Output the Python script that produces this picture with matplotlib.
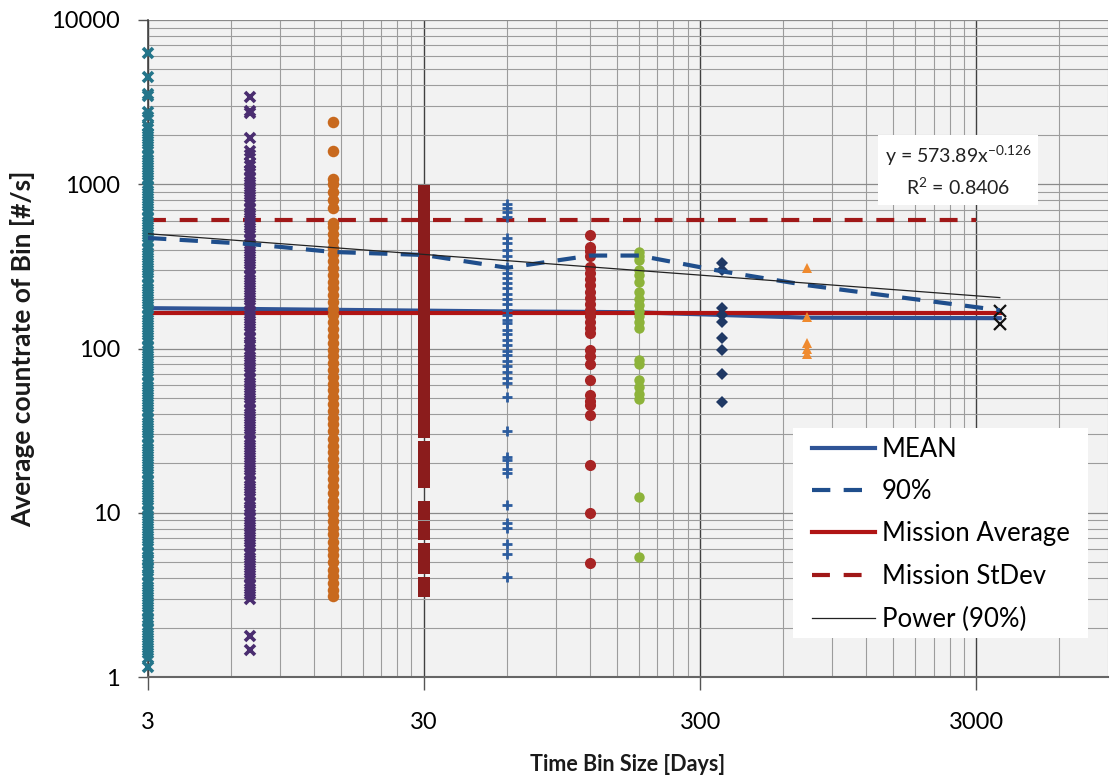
"""Average countrate per time bin, log-log scatter with mission reference lines."""

import matplotlib
matplotlib.use('Agg')
import matplotlib.pyplot as plt
import numpy as np
from matplotlib.patches import Rectangle
from matplotlib.ticker import FixedLocator, FuncFormatter, NullFormatter

# Time bin sizes [days]
BINS = [3, 7, 14, 30, 60, 120, 180, 360, 730, 3650]

# Average countrate of each bin [#/s], one list per bin size
CR_3 = [1.15, 1.3, 1.4, 1.5, 1.6, 1.72, 1.85, 2.0, 2.15, 2.3, 2.47, 2.65,
        2.85, 3.05, 3.3, 3.55, 3.8, 4.1, 4.4, 4.7, 5.05, 5.4, 5.8, 6.25, 6.7,
        7.2, 7.75, 8.3, 8.9, 9.6, 10.3, 11.1, 11.9, 12.8, 13.8, 14.8, 15.9,
        17.1, 18.4, 19.8, 21.3, 22.9, 24.6, 26.4, 28.4, 30.5, 32.8, 35.3,
        37.9, 40.8, 43.8, 47.1, 50.6, 54.4, 58.5, 62.9, 67.6, 72.7, 78.1, 84,
        90.3, 97, 104, 112, 120, 129, 139, 149, 161, 173, 186, 200, 215, 231,
        248, 267, 287, 308, 331, 356, 383, 412, 443, 476, 512, 550, 591, 636,
        683, 734, 789, 849, 912, 981, 1055, 1134, 1219, 1310, 1408, 1514,
        1628, 1750, 1880, 2020, 2170, 2250, 2550, 2750, 3450, 3550, 4500,
        6300]
CR_7 = [1.45, 1.78, 3.0, 3.2, 3.45, 3.7, 4.0, 4.3, 4.6, 4.95, 5.3, 5.7, 6.15,
        6.6, 7.1, 7.6, 8.2, 8.8, 9.45, 10.2, 10.9, 11.7, 12.6, 13.6, 14.6,
        15.7, 16.9, 18.1, 19.5, 20.9, 22.5, 24.2, 26, 27.9, 30, 32.3, 34.7,
        37.3, 40.1, 43.1, 46.3, 49.8, 53.5, 57.5, 61.8, 66.5, 71.5, 76.8,
        82.6, 88.8, 95.4, 103, 110, 118, 127, 137, 147, 158, 170, 183, 196,
        211, 227, 244, 262, 282, 303, 326, 350, 376, 405, 435, 467, 502, 540,
        581, 624, 671, 721, 775, 834, 896, 963, 1035, 1113, 1197, 1287, 1350,
        1500, 1600, 1900, 2700, 2800, 3400]
CR_14 = [3.1, 3.4, 3.75, 4.1, 4.5, 5.0, 5.5, 6.0, 6.6, 7.4, 8.1, 8.9, 9.8,
         10.8, 11.8, 13.2, 14.5, 16, 17.6, 19.3, 21.2, 23.3, 25.6, 28.2, 31.5,
         34.6, 38, 41.8, 46, 50.6, 55.6, 61.2, 67.3, 74, 81.4, 89.5, 98.5,
         108, 119, 131, 144, 159, 175, 192, 211, 232, 255, 281, 309, 340, 374,
         411, 452, 497, 547, 580, 720, 800, 900, 1000, 1080, 1600, 2380]
CR_30 = [3.35, 3.75, 4.6, 5.0, 5.5, 6.0, 7.4, 8.2, 9.8, 10.8, 15.4, 17.0,
         18.7, 20.7, 22.8, 25.1, 31.0, 32.4, 35.7, 39.4, 43.4, 47.9, 52.8,
         58.3, 64.3, 70.9, 78.2, 86.3, 95.2, 105, 116, 128, 141, 156, 172,
         189, 209, 230, 254, 280, 309, 341, 376, 415, 458, 505, 557, 614, 678,
         748, 825, 910]
CR_60 = [4.06, 5.6, 6.45, 8.1, 8.7, 11.1, 17.4, 18.5, 20.9, 21.8, 31.4, 50.6,
         62, 66, 72, 78, 84, 91, 97, 105, 113, 122, 130, 143, 150, 160, 172,
         186, 200, 215, 232, 250, 268, 290, 315, 365, 400, 440, 473, 630, 680,
         720, 760]
CR_120 = [4.95, 10.0, 19.5, 39.5, 45, 48, 52, 64.5, 81, 90, 98, 125, 133, 145,
          158, 172, 187, 204, 222, 243, 265, 290, 315, 365, 390, 415, 493]
CR_180 = [5.4, 12.5, 49, 53, 58, 64, 80, 85, 133, 145, 157, 170, 185, 200,
          220, 255, 280, 300, 345, 365, 385]
CR_360 = [47.2, 70, 98, 116, 145, 160, 177, 300, 330]
CR_730 = [93, 100, 108, 155, 310]
CR_3650 = [140, 170]

# Summary lines
MEAN = [176, 174, 172, 170, 168, 167, 166, 160, 154, 153]
P90 = [471, 433, 387, 371, 310, 368, 368, 295, 243, 171]
MISSION_AVG = 165
MISSION_STDEV = 610
STDEV_SPAN = [3, 3000]
POWER_A = 573.89
POWER_B = -0.126
POWER_R2 = 0.8406

plt.rcParams['font.family'] = ['Lato', 'DejaVu Sans']
plt.rcParams['mathtext.default'] = 'regular'

fig = plt.figure(figsize=(11.1, 7.77), dpi=100)
ax = fig.add_axes([148 / 1110, 1 - 677 / 777, 960 / 1110, 657 / 777])
ax.set_facecolor('#f2f2f2')
ax.set_xscale('log')
ax.set_yscale('log')
ax.set_xlim(3, 9000)
ax.set_ylim(1, 10000)

# Scatter columns (markers are not clipped at the axis edge, as in Excel)
series = [
    (BINS[0], CR_3, 'x', '#24758a', 7.5, 2.6),
    (BINS[1], CR_7, 'x', '#4a2d70', 7.5, 2.6),
    (BINS[2], CR_14, 'o', '#c8691e', 8.3, 0),
    (BINS[3], CR_30, 's', '#8b1c1c', 8.3, 0),
    (BINS[4], CR_60, '+', '#2c5c9e', 7, 2),
    (BINS[5], CR_120, 'o', '#a82424', 8, 0),
    (BINS[6], CR_180, 'o', '#8db33a', 7.5, 0),
    (BINS[7], CR_360, 'D', '#1f3864', 6.5, 0),
    (BINS[8], CR_730, '^', '#ef8a2e', 7.5, 0),
    (BINS[9], CR_3650, 'x', '#111111', 8, 1.6),
]
for x, vals, mk, col, ms, mew in series:
    ax.plot([x] * len(vals), vals, linestyle='none', marker=mk, color=col,
            markersize=ms, markeredgewidth=mew, zorder=3, clip_on=False)

# Reference lines
ax.plot(BINS, MEAN, color='#2f5496', lw=3, zorder=2, label='MEAN')
ax.plot(BINS, P90, color='#1f4e8c', lw=3, ls=(0, (4.4, 3.2)), zorder=4,
        label='90%')
ax.plot([BINS[0], BINS[-1]], [MISSION_AVG] * 2, color='#b01414', lw=3,
        zorder=2, label='Mission Average')
ax.plot(STDEV_SPAN, [MISSION_STDEV] * 2, color='#a01818', lw=3,
        ls=(0, (4.3, 3.3)), zorder=2, label='Mission StDev')
bins = np.array(BINS, dtype=float)
ax.plot(bins, POWER_A * bins ** POWER_B, color='#222222', lw=0.9, zorder=5,
        label='Power (90%)')

# Grid and ticks
xmajor = [3, 30, 300, 3000]
xminor = [3 * k * 10 ** n for n in range(4) for k in range(2, 10)]
ax.xaxis.set_major_locator(FixedLocator(xmajor))
ax.xaxis.set_minor_locator(FixedLocator(xminor))
ax.xaxis.set_major_formatter(FuncFormatter(lambda v, p: f'{v:g}'))
ax.xaxis.set_minor_formatter(NullFormatter())
ax.yaxis.set_major_locator(FixedLocator([1, 10, 100, 1000, 10000]))
ax.yaxis.set_minor_locator(FixedLocator(
    [k * 10 ** n for n in range(4) for k in range(2, 10)]))
ax.yaxis.set_major_formatter(FuncFormatter(lambda v, p: f'{v:g}'))
ax.yaxis.set_minor_formatter(NullFormatter())

ax.grid(which='minor', axis='both', color='#9c9c9c', lw=0.8, zorder=0)
ax.grid(which='major', axis='y', color='#8a8a8a', lw=0.9)
ax.grid(which='major', axis='x', color='#404040', lw=1.0)
ax.set_axisbelow(True)

ax.tick_params(which='minor', length=0)
ax.tick_params(axis='x', which='major', direction='out', length=9, width=1,
               color='#555555', pad=16, labelsize=17)
ax.tick_params(axis='y', which='major', direction='out', length=7, width=1,
               color='#555555', pad=13, labelsize=17)
for side in ('top', 'right'):
    ax.spines[side].set_visible(False)
ax.spines['left'].set_color('#444444')
ax.spines['left'].set_linewidth(1.2)
ax.spines['bottom'].set_color('#666666')
ax.spines['bottom'].set_linewidth(1.5)

ax.set_xlabel('Time Bin Size [Days]', fontsize=15.5, fontweight='bold',
              color='#1a1a1a', labelpad=15)
ax.set_ylabel('Average countrate of Bin [#/s]', fontsize=19,
              fontweight='bold', color='#1a1a1a', labelpad=12)

# Trendline equation
ax.text(958 / 1110, 1 - 171 / 777,
        f'y = {POWER_A}x$^{{{POWER_B}}}$\nR$^2$ = {POWER_R2}',
        transform=fig.transFigure, ha='center', va='center', fontsize=14,
        linespacing=1.45, color='#222222',
        bbox=dict(facecolor='white', edgecolor='none', pad=5), zorder=6)

# Legend with a white panel behind it
ax.add_patch(Rectangle((0.672, 0.059), 0.307, 0.32, transform=ax.transAxes,
                       facecolor='white', edgecolor='none', zorder=6))
leg = ax.legend(loc='upper left', bbox_to_anchor=(0.692, 0.366),
                borderaxespad=0, fontsize=18.5, frameon=False,
                handlelength=2.45, handletextpad=0.25, labelspacing=0.68,
                borderpad=0)
leg.set_zorder(7)

fig.savefig('out.png', dpi=100, facecolor='white')
